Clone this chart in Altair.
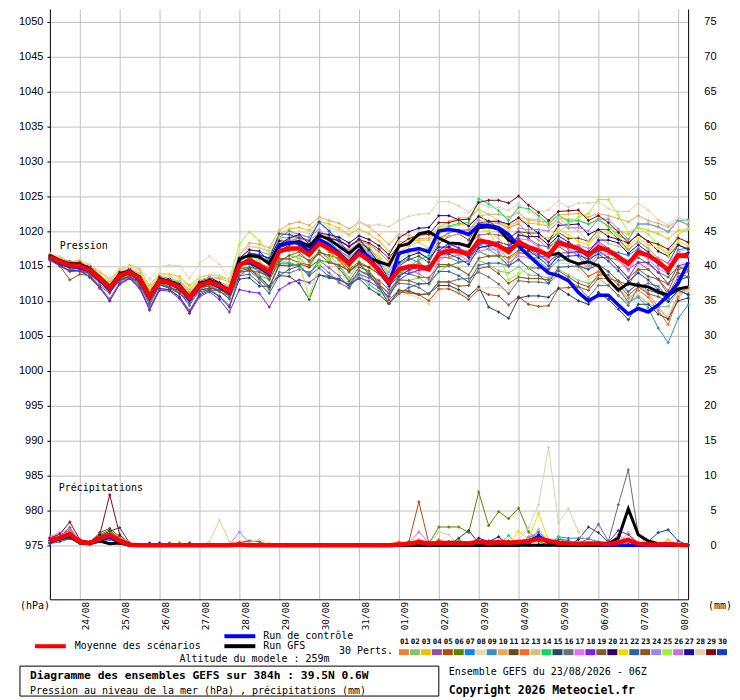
import altair as alt
import pandas as pd

# ---------------- time axis (6-hourly, 0..384 h from 23/08 06Z) ----------------
HOURS = [6 * i for i in range(65)]
DAY_HOURS = [18, 42, 66, 90, 114, 138, 162, 186, 210, 234, 258, 282, 306, 330, 354, 378]
DAY_LABELS = ["24/08", "25/08", "26/08", "27/08", "28/08", "29/08", "30/08", "31/08",
              "01/09", "02/09", "03/09", "04/09", "05/09", "06/09", "07/09", "08/09"]
PRESSURE_TICKS = [975, 980, 985, 990, 995, 1000, 1005, 1010, 1015, 1020, 1025, 1030, 1035, 1040, 1045, 1050]

MEMBER_IDS = ["01", "02", "03", "04", "05", "06", "07", "08", "09", "10",
              "11", "12", "13", "14", "15", "16", "17", "18", "19", "20",
              "21", "22", "23", "24", "25", "26", "27", "28", "29", "30"]
MEMBER_COLORS = ["#E8823A", "#84C46C", "#F0C000", "#8C50A8", "#B04C0C", "#5C8400", "#0C84FC", "#E8D8B0",
                 "#3C8CBC", "#E8A858", "#604C1C", "#F86C20", "#D4C07C", "#10D864", "#28485C", "#687078",
                 "#E070F8", "#7C20F0", "#7C5C30", "#300070", "#F0D800", "#2C64A0", "#905420", "#9C88EC",
                 "#A0F038", "#D070D4", "#200CA0", "#E0D0B0", "#800C10", "#1040C0"]

# ---------------- sea level pressure (hPa) ----------------
p_mean = [1016.3,1015.6,1015.1,1015.0,1014.4,1013.2,1011.8,1013.6,1014.1,1013.2,1010.6,1012.9,1012.6,1012.0,1010.4,1012.2,1012.7,1012.2,1011.3,
          1015.1,1015.8,1015.1,1014.1,1017.1,1017.5,1017.5,1016.6,1018.2,1017.5,1016.6,1015.3,1016.8,1015.8,1014.4,1012.6,
          1014.5,1014.9,1014.9,1014.5,1016.7,1017.2,1017.1,1016.7,1018.6,1018.4,1017.9,1017.0,1018.4,1017.7,1017.2,1016.5,1018.3,1017.9,1017.5,1016.5,1017.7,1017.2,1016.3,1015.3,1017.0,1016.5,1015.6,1014.4,1016.5,1016.4]
p_ctl = [1016.2,1015.4,1015.0,1014.8,1014.3,1013.0,1011.6,1013.5,1014.0,1013.0,1010.4,1012.8,1012.5,1011.8,1010.2,1012.1,1012.6,1012.0,1011.1,
         1015.3,1015.5,1014.8,1013.8,1017.8,1018.3,1018.3,1017.0,1018.8,1018.0,1016.8,1015.5,1017.2,1016.3,1014.2,1012.4,
         1016.8,1017.2,1017.5,1017.0,1020.0,1020.2,1020.0,1019.5,1020.8,1020.8,1020.5,1019.5,1017.8,1016.5,1015.2,1014.0,1013.6,1012.9,1011.2,1010.0,1010.8,1010.8,1009.4,1008.1,1008.9,1008.4,1009.4,1010.8,1012.5,1015.5]
p_gfs = [1016.5,1015.8,1015.3,1015.2,1014.6,1013.4,1012.0,1013.8,1014.3,1013.4,1010.8,1013.1,1012.8,1012.2,1010.6,1012.4,1012.9,1012.4,1011.5,
         1016.0,1016.5,1016.3,1015.3,1018.0,1018.3,1018.5,1017.8,1019.4,1018.8,1017.8,1016.8,1018.0,1016.1,1015.6,1015.1,
         1017.8,1018.2,1019.6,1019.9,1019.0,1018.3,1018.2,1017.8,1020.5,1020.6,1020.3,1018.7,1018.0,1017.6,1017.2,1016.5,1016.8,1015.8,1015.3,1015.6,1015.0,1013.0,1011.5,1012.5,1012.2,1012.0,1011.3,1010.8,1011.7,1012.0]

p01 = [1016.5,1015.9,1015.6,1015.4,1015.0,1013.5,1012.3,1013.8,1014.5,1013.8,1011.4,1013.2,1013.1,1012.7,1011.3,1012.6,1013.3,1012.7,1012.1,
       1015.6,1016.8,1016.3,1015.6,1018.1,1018.9,1019.3,1018.6,1019.7,1019.4,1018.8,1017.8,1018.6,1018.1,1017.0,1015.6,
       1017.0,1016.9,1017.3,1017.3,1018.9,1019.8,1020.1,1020.1,1021.1,1021.2,1021.1,1020.5,1021.0,1019.7,1018.7,1017.5,1018.7,1017.4,1016.3,1014.5,1015.2,1014.2,1012.9,1011.3,1012.5,1011.0,1009.1,1007.4,1011.0,1011.9]
p02 = [1016.1,1015.6,1014.8,1014.9,1014.0,1013.0,1011.3,1013.3,1014.0,1012.8,1010.0,1012.6,1012.4,1011.5,1010.0,1011.9,1012.1,1011.8,1010.6,
       1014.6,1014.8,1014.3,1012.9,1015.6,1016.5,1016.1,1014.8,1017.0,1016.5,1015.1,1013.3,1015.4,1014.0,1012.2,1011.1,
       1013.0,1012.9,1013.3,1012.3,1014.1,1015.2,1014.6,1013.7,1015.8,1015.2,1014.3,1014.0,1014.9,1013.7,1013.6,1013.3,1014.5,1013.7,1012.9,1012.5,1013.2,1012.2,1010.7,1009.8,1010.8,1009.5,1009.1,1009.2,1011.5,1011.6]
p03 = [1016.7,1016.2,1015.6,1015.8,1015.0,1014.1,1013.0,1014.4,1015.1,1014.5,1012.2,1013.9,1013.8,1013.5,1012.2,1013.4,1013.7,1013.6,1013.0,
       1016.6,1017.8,1017.6,1017.1,1019.6,1020.3,1020.5,1020.1,1021.4,1021.0,1020.4,1019.5,1020.3,1019.6,1018.6,1017.1,
       1018.5,1018.4,1018.7,1018.7,1020.3,1020.5,1020.9,1020.9,1022.1,1021.4,1021.3,1020.8,1021.4,1021.1,1021.0,1020.7,1021.8,1021.7,1021.5,1021.0,1021.5,1020.7,1020.1,1019.5,1020.5,1020.1,1019.6,1018.9,1020.1,1020.2]
p04 = [1015.8,1015.0,1014.3,1014.3,1013.4,1012.0,1010.3,1012.6,1013.3,1012.0,1009.0,1011.8,1011.6,1010.6,1008.6,1011.0,1011.7,1010.7,1009.3,
       1013.6,1014.6,1013.5,1012.1,1015.3,1015.3,1015.0,1013.8,1015.8,1014.7,1013.6,1011.9,1014.3,1013.6,1012.4,1011.1,
       1013.5,1014.4,1014.9,1015.0,1016.9,1017.8,1018.1,1018.1,1019.4,1019.6,1019.4,1019.0,1019.9,1018.9,1018.0,1017.7,1018.8,1018.1,1017.3,1017.0,1018.5,1017.5,1016.1,1014.5,1015.5,1014.5,1013.1,1010.9,1013.5,1014.2]
p05 = [1016.0,1015.4,1014.6,1014.2,1014.0,1013.0,1011.5,1013.0,1013.2,1012.7,1010.4,1012.5,1011.9,1011.5,1010.1,1011.6,1011.8,1011.6,1010.9,
       1014.8,1015.8,1015.4,1014.7,1017.1,1017.2,1017.7,1017.1,1018.2,1017.1,1015.8,1014.1,1015.3,1013.8,1011.9,1009.6,
       1011.3,1011.1,1010.9,1010.0,1011.7,1011.7,1011.1,1010.2,1011.6,1010.9,1010.7,1009.4,1010.6,1009.5,1009.2,1009.3,1011.8,1011.9,1012.0,1011.5,1013.2,1013.2,1012.8,1012.3,1014.5,1014.5,1013.1,1011.4,1014.5,1014.9]
p06 = [1016.3,1015.8,1015.0,1015.3,1014.4,1012.9,1011.8,1013.8,1014.0,1013.0,1010.6,1013.2,1012.6,1011.8,1010.6,1012.2,1012.4,1012.2,1011.6,
       1015.1,1015.3,1014.1,1013.5,1015.9,1016.0,1016.5,1015.8,1016.9,1016.5,1016.1,1014.5,1015.6,1014.8,1013.8,1012.6,
       1014.0,1013.9,1013.4,1013.3,1014.9,1015.0,1015.5,1015.7,1017.1,1016.4,1016.5,1016.2,1017.2,1017.1,1017.2,1016.9,1017.8,1016.9,1017.1,1016.5,1017.1,1016.2,1015.8,1015.3,1016.2,1015.3,1014.1,1013.4,1014.9,1014.4]
p07 = [1016.6,1015.7,1015.5,1015.2,1014.9,1013.5,1012.4,1014.0,1014.3,1013.7,1011.4,1013.3,1012.9,1012.6,1010.8,1012.4,1013.2,1012.5,1011.4,
       1015.6,1016.6,1016.1,1015.5,1018.1,1018.7,1018.3,1017.8,1019.7,1018.5,1017.2,1016.3,1018.2,1017.6,1015.9,1013.6,
       1015.3,1016.1,1015.5,1014.5,1017.2,1018.2,1017.5,1016.5,1018.0,1018.4,1018.4,1018.0,1018.8,1017.5,1016.4,1016.3,1018.7,1017.9,1017.0,1015.5,1017.2,1017.2,1016.9,1016.5,1017.5,1016.5,1015.1,1014.4,1017.3,1017.6]
p08 = [1016.8,1016.4,1015.7,1015.4,1015.2,1014.2,1013.3,1014.8,1014.9,1014.7,1013.1,1014.9,1015.1,1015.0,1013.2,1015.4,1016.4,1015.2,1013.1,
       1016.1,1016.3,1015.1,1013.6,1016.1,1016.0,1016.3,1014.8,1016.0,1015.5,1014.1,1012.3,1014.2,1012.8,1010.9,1009.6,
       1011.0,1010.9,1010.4,1009.5,1011.2,1012.2,1011.3,1010.5,1011.8,1011.9,1011.9,1011.5,1013.4,1013.2,1013.2,1013.0,1015.3,1015.4,1014.5,1013.0,1013.7,1012.7,1011.3,1009.8,1011.0,1009.7,1008.1,1007.9,1011.0,1011.4]
p09 = [1016.3,1015.4,1015.3,1015.0,1014.1,1012.7,1011.6,1013.6,1014.3,1013.0,1010.1,1012.8,1012.7,1011.7,1009.8,1012.0,1012.7,1011.9,1010.8,
       1015.1,1016.3,1016.1,1015.6,1019.1,1020.0,1019.5,1019.1,1021.2,1020.0,1018.6,1017.8,1018.6,1017.0,1015.0,1012.6,
       1014.0,1013.9,1014.4,1014.5,1016.2,1016.2,1015.6,1015.7,1018.1,1017.4,1016.4,1015.0,1016.9,1016.7,1015.7,1014.5,1015.8,1015.9,1015.0,1013.5,1014.2,1013.2,1011.8,1009.8,1010.5,1009.0,1006.1,1004.0,1007.5,1009.4]
p10 = [1016.6,1016.1,1015.3,1015.6,1015.2,1013.7,1012.7,1014.2,1014.5,1014.0,1011.7,1013.6,1013.1,1012.9,1011.6,1013.0,1013.3,1013.2,1012.7,
       1016.6,1018.3,1018.1,1017.6,1020.1,1021.0,1021.3,1020.8,1022.0,1021.5,1021.1,1020.3,1021.3,1020.6,1019.4,1018.1,
       1019.5,1019.4,1018.9,1019.0,1020.5,1021.4,1021.9,1021.9,1023.1,1022.4,1022.4,1022.0,1022.6,1021.5,1021.4,1021.3,1022.3,1022.4,1022.5,1022.0,1022.5,1022.2,1021.8,1021.3,1022.2,1021.5,1021.1,1020.6,1021.5,1020.9]
p11 = [1016.1,1015.2,1015.0,1014.7,1013.8,1012.8,1011.6,1013.1,1013.4,1012.8,1010.4,1012.3,1011.8,1011.5,1010.1,1011.5,1011.8,1011.6,1011.0,
       1014.3,1014.6,1013.3,1011.9,1015.1,1015.0,1015.3,1014.8,1015.8,1015.5,1015.1,1014.3,1015.3,1014.8,1013.9,1012.6,
       1015.0,1015.9,1016.4,1015.5,1018.2,1019.2,1019.6,1018.7,1021.1,1021.4,1020.4,1019.0,1019.9,1019.7,1019.7,1018.5,1019.8,1018.9,1019.0,1018.5,1020.2,1020.2,1018.8,1017.3,1018.5,1017.5,1016.1,1015.4,1018.0,1017.4]
p12 = [1016.5,1015.6,1015.4,1015.1,1014.2,1013.2,1012.1,1013.7,1014.0,1013.4,1011.1,1013.1,1012.6,1012.3,1011.0,1012.5,1012.7,1012.4,1011.8,
       1015.1,1015.3,1015.1,1014.6,1017.1,1017.1,1017.5,1017.0,1018.2,1017.0,1015.8,1014.9,1016.8,1016.2,1014.4,1012.1,
       1014.0,1014.9,1015.4,1014.5,1016.2,1016.2,1016.6,1016.7,1019.1,1018.4,1017.4,1016.0,1016.9,1016.7,1016.7,1015.5,1016.8,1015.9,1015.0,1013.5,1014.2,1013.2,1011.8,1010.3,1011.5,1010.5,1008.6,1006.6,1010.5,1011.9]
p13 = [1016.4,1015.9,1015.1,1015.2,1014.8,1013.3,1011.6,1013.8,1014.5,1013.3,1010.4,1013.1,1013.0,1012.1,1010.1,1012.3,1013.0,1012.2,1011.1,
       1015.6,1016.8,1015.6,1014.1,1017.6,1018.5,1019.0,1017.6,1018.7,1018.5,1018.1,1017.3,1018.3,1016.8,1015.9,1014.6,
       1017.0,1017.9,1018.4,1017.5,1019.2,1019.2,1019.6,1019.7,1022.1,1022.4,1021.4,1020.0,1021.9,1021.7,1021.7,1020.5,1021.8,1020.9,1020.0,1018.5,1019.2,1018.2,1017.8,1017.3,1018.5,1017.5,1016.1,1014.4,1017.0,1017.4]
p14 = [1016.2,1015.7,1014.9,1015.0,1014.6,1013.1,1011.5,1013.6,1014.3,1013.2,1010.3,1012.9,1012.8,1011.9,1010.0,1012.2,1012.9,1012.1,1010.9,
       1014.6,1014.8,1013.6,1013.1,1015.6,1015.5,1015.0,1013.6,1015.7,1015.5,1015.1,1012.8,1013.8,1012.3,1011.4,1010.6,
       1013.5,1014.9,1015.9,1016.5,1019.7,1020.7,1021.1,1021.2,1024.6,1023.9,1022.9,1021.5,1023.4,1023.2,1022.2,1021.0,1022.3,1021.4,1021.5,1021.0,1021.7,1020.7,1019.3,1018.8,1021.0,1021.0,1020.6,1019.9,1021.5,1021.6]
p15 = [1016.0,1015.1,1014.3,1014.4,1013.4,1011.9,1010.0,1012.4,1013.2,1011.8,1008.7,1011.7,1011.6,1010.5,1008.4,1010.8,1011.5,1010.6,1009.1,
       1013.1,1013.3,1012.1,1012.1,1013.6,1013.5,1012.5,1010.2,1013.7,1013.3,1013.0,1012.3,1013.2,1011.8,1010.9,1009.6,
       1011.5,1011.4,1010.9,1011.0,1012.2,1012.2,1011.6,1010.7,1012.0,1009.1,1008.4,1007.5,1010.4,1010.7,1010.7,1010.5,1011.8,1010.9,1010.0,1009.5,1011.2,1010.2,1008.8,1007.3,1009.5,1009.5,1008.1,1007.4,1010.0,1010.4]
p16 = [1016.1,1015.3,1014.6,1014.7,1013.8,1012.4,1011.3,1013.3,1013.5,1012.3,1009.4,1012.2,1012.1,1011.2,1009.3,1011.6,1012.3,1011.4,1010.3,
       1014.1,1014.3,1013.1,1011.6,1014.1,1014.0,1014.5,1014.1,1015.2,1014.0,1012.6,1011.8,1013.8,1013.3,1012.4,1011.1,
       1012.5,1012.4,1011.9,1011.0,1012.7,1012.7,1013.1,1013.2,1014.1,1013.4,1012.4,1011.0,1012.9,1012.7,1012.7,1012.5,1013.8,1012.9,1012.0,1010.5,1012.2,1012.2,1010.8,1009.3,1012.0,1012.5,1012.1,1010.4,1013.0,1013.4]
p17 = [1016.3,1015.8,1015.5,1015.1,1014.3,1013.4,1012.2,1013.6,1013.9,1013.3,1011.0,1012.9,1012.3,1012.0,1010.7,1012.1,1012.3,1012.2,1011.6,
       1015.6,1016.8,1016.6,1015.1,1017.6,1018.5,1019.0,1018.6,1019.7,1018.5,1018.1,1017.3,1018.3,1016.8,1014.9,1013.6,
       1015.0,1014.9,1014.4,1014.5,1017.2,1017.2,1016.6,1015.7,1017.1,1017.4,1017.4,1017.0,1018.9,1018.7,1017.7,1016.5,1017.8,1017.9,1018.0,1017.5,1018.2,1017.2,1015.8,1014.3,1016.5,1016.5,1016.1,1015.4,1017.0,1016.4]
p18 = [1015.9,1015.0,1014.2,1014.3,1013.4,1011.8,1010.0,1012.4,1013.2,1011.9,1008.7,1011.5,1011.4,1010.3,1008.2,1010.6,1011.3,1010.2,1008.4,
       1011.6,1011.3,1011.1,1009.1,1011.6,1012.5,1013.0,1012.6,1013.7,1013.5,1013.1,1012.3,1013.3,1012.8,1011.9,1010.6,
       1013.0,1013.9,1014.4,1014.5,1017.2,1018.2,1017.6,1016.7,1018.1,1018.4,1018.4,1018.0,1018.9,1017.7,1016.7,1015.5,1016.8,1016.9,1017.0,1016.5,1017.2,1016.2,1014.8,1013.3,1015.5,1015.5,1014.1,1012.4,1015.0,1015.4]
p19 = [1016.4,1015.5,1015.3,1015.0,1014.2,1013.3,1011.7,1013.8,1014.1,1013.0,1010.7,1012.8,1012.8,1012.0,1010.2,1012.3,1012.6,1012.4,1011.3,
       1014.6,1014.8,1014.6,1013.1,1015.6,1016.5,1017.0,1015.6,1016.7,1015.5,1015.1,1014.3,1015.3,1013.8,1012.9,1011.6,
       1013.0,1012.9,1012.4,1012.5,1015.2,1015.2,1014.6,1013.7,1016.1,1016.4,1016.4,1015.0,1015.9,1014.7,1014.7,1014.5,1016.8,1015.9,1015.0,1014.5,1016.2,1016.2,1014.8,1013.3,1014.5,1013.5,1013.1,1012.4,1014.0,1013.4]
p20 = [1016.5,1016.0,1015.2,1015.3,1014.9,1013.4,1011.8,1013.9,1014.6,1013.4,1010.6,1013.3,1013.2,1012.3,1010.5,1012.7,1013.4,1012.6,1011.5,
       1015.6,1016.8,1016.6,1016.1,1018.6,1018.5,1018.0,1017.6,1019.7,1019.5,1019.1,1018.3,1019.3,1018.8,1017.9,1016.6,
       1019.0,1019.9,1020.4,1020.5,1022.2,1022.2,1021.6,1020.7,1022.1,1021.4,1021.4,1021.0,1021.9,1020.7,1019.7,1018.5,1020.8,1020.9,1021.0,1019.5,1020.2,1019.2,1018.8,1018.3,1019.5,1018.5,1017.1,1016.4,1018.0,1017.4]
p21 = [1016.3,1015.8,1015.1,1014.8,1014.4,1013.4,1011.8,1013.4,1014.1,1013.4,1010.6,1012.7,1012.6,1012.2,1010.4,1012.0,1012.7,1012.4,1011.3,
       1015.6,1016.8,1015.6,1014.1,1018.1,1019.0,1018.5,1017.1,1019.2,1019.0,1017.6,1015.8,1017.8,1017.3,1016.4,1015.1,
       1016.5,1017.4,1016.9,1016.0,1018.7,1019.7,1020.1,1019.2,1020.6,1019.9,1018.9,1017.5,1019.4,1019.2,1019.2,1019.0,1020.3,1019.4,1018.5,1018.0,1019.7,1019.7,1019.3,1017.8,1019.0,1018.0,1017.6,1016.9,1018.5,1017.9]
p22 = [1016.1,1015.2,1014.8,1014.5,1013.7,1012.8,1011.2,1012.8,1013.6,1012.5,1009.7,1012.3,1011.8,1011.0,1009.7,1011.3,1011.6,1011.4,1010.3,
       1013.6,1013.8,1012.6,1011.1,1013.6,1014.5,1015.0,1013.6,1014.7,1013.5,1013.1,1012.3,1014.3,1013.8,1011.9,1009.6,
       1011.0,1011.9,1012.4,1012.5,1014.2,1014.2,1013.6,1012.7,1015.1,1015.4,1015.4,1015.0,1015.9,1014.7,1013.7,1012.5,1014.8,1014.9,1015.0,1014.5,1015.2,1014.2,1012.8,1011.3,1012.5,1011.5,1011.1,1010.4,1013.0,1013.4]
p23 = [1016.0,1015.0,1013.0,1013.8,1013.6,1012.1,1011.1,1013.2,1013.4,1012.2,1010.0,1012.6,1012.0,1011.1,1009.9,1011.9,1012.1,1011.3,1010.7,
       1014.1,1014.3,1014.1,1013.6,1016.1,1016.0,1015.5,1015.1,1017.2,1016.0,1014.6,1012.8,1014.8,1014.3,1012.4,1010.1,
       1011.5,1011.4,1010.9,1011.0,1012.7,1012.7,1012.1,1012.2,1014.6,1014.9,1013.9,1012.5,1013.4,1013.2,1013.2,1013.0,1014.3,1013.4,1012.5,1012.0,1013.7,1013.7,1012.3,1010.8,1012.0,1011.0,1010.6,1009.9,1011.5,1010.9]
p24 = [1016.6,1015.7,1015.5,1015.6,1014.7,1013.3,1012.2,1014.2,1014.4,1013.3,1011.0,1013.5,1012.9,1012.1,1010.8,1012.8,1013.0,1012.3,1011.7,
       1016.1,1017.3,1017.1,1016.6,1019.1,1019.0,1019.5,1019.1,1020.2,1019.0,1018.6,1017.8,1018.8,1017.3,1015.4,1014.1,
       1016.5,1017.4,1016.9,1016.0,1018.7,1019.7,1020.1,1020.2,1021.6,1020.9,1019.9,1018.5,1020.4,1020.2,1020.2,1020.0,1021.3,1020.4,1020.5,1020.0,1021.7,1021.7,1020.3,1018.8,1021.0,1021.0,1020.6,1019.9,1021.5,1020.9]
p25 = [1016.5,1016.0,1015.3,1015.0,1014.7,1013.7,1012.6,1014.1,1014.4,1013.8,1011.5,1013.5,1013.0,1012.8,1011.6,1013.0,1013.3,1013.4,1013.1,
       1018.1,1019.9,1018.6,1016.6,1019.1,1018.0,1015.5,1010.5,1015.2,1016.0,1016.6,1016.3,1018.3,1017.8,1015.9,1013.6,
       1016.0,1016.9,1017.4,1017.5,1020.2,1021.2,1021.6,1021.7,1023.1,1020.4,1016.9,1013.0,1013.9,1014.7,1015.7,1016.5,1019.8,1020.9,1022.0,1022.5,1024.5,1024.5,1022.3,1019.8,1020.5,1019.5,1018.1,1016.4,1019.5,1020.4]
p26 = [1016.3,1015.4,1015.1,1015.2,1014.4,1013.0,1011.8,1013.8,1014.1,1013.0,1010.2,1012.7,1012.6,1011.8,1010.0,1012.0,1012.7,1012.0,1010.9,
       1015.6,1016.8,1016.6,1015.1,1017.6,1018.5,1019.0,1017.6,1018.7,1017.5,1017.1,1016.3,1017.3,1015.8,1013.9,1012.6,
       1014.5,1014.4,1013.9,1013.0,1015.7,1016.7,1017.1,1017.2,1018.6,1017.9,1016.9,1015.5,1016.4,1016.2,1016.2,1016.0,1018.3,1017.4,1016.5,1015.0,1016.7,1016.7,1016.3,1015.8,1017.0,1016.0,1014.6,1013.9,1016.5,1016.9]
p27 = [1016.4,1015.9,1015.6,1015.3,1014.5,1013.1,1011.5,1013.7,1014.4,1013.3,1010.4,1013.0,1012.9,1012.0,1010.2,1012.4,1013.1,1012.3,1011.2,
       1016.1,1017.3,1017.1,1015.6,1018.1,1019.0,1019.5,1018.1,1019.2,1019.0,1018.6,1017.8,1018.8,1017.3,1015.4,1013.1,
       1015.5,1016.4,1016.9,1016.0,1017.7,1017.7,1017.1,1016.2,1017.6,1017.9,1017.9,1017.5,1019.4,1019.2,1019.2,1018.0,1019.3,1018.4,1017.5,1017.0,1018.7,1018.7,1018.3,1016.8,1018.0,1017.0,1015.6,1013.9,1016.5,1016.9]
p28 = [1016.6,1016.1,1015.5,1015.6,1015.2,1014.2,1013.1,1014.5,1014.8,1014.2,1012.0,1013.9,1013.4,1013.2,1012.0,1013.4,1013.7,1013.6,1013.1,
       1016.6,1017.8,1017.6,1017.1,1019.6,1019.5,1020.0,1019.6,1021.7,1020.5,1020.1,1019.3,1021.3,1020.8,1020.9,1020.6,
       1021.5,1022.1,1022.4,1022.5,1024.2,1024.2,1023.6,1022.7,1024.1,1023.4,1023.4,1023.0,1023.9,1022.7,1022.7,1023.0,1024.3,1023.4,1024.0,1024.0,1024.2,1023.2,1022.8,1022.8,1024.0,1023.0,1021.6,1020.9,1022.0,1021.4]
p29 = [1016.5,1015.6,1015.4,1015.5,1014.6,1013.2,1012.1,1014.1,1014.3,1013.2,1010.9,1013.4,1012.8,1012.0,1010.7,1012.7,1012.9,1012.2,1011.6,
       1016.1,1016.3,1015.1,1013.6,1017.1,1018.0,1018.5,1018.1,1019.2,1019.0,1018.6,1017.8,1018.8,1018.3,1017.4,1016.1,
       1018.0,1018.9,1019.4,1019.5,1021.2,1021.2,1021.6,1021.7,1024.1,1024.4,1024.4,1024.0,1025.0,1023.7,1022.7,1021.5,1022.8,1022.9,1023.0,1021.5,1022.2,1021.2,1019.8,1018.3,1019.5,1018.5,1018.1,1017.4,1019.0,1018.4]
p30 = [1016.2,1015.7,1014.9,1015.0,1014.6,1013.1,1011.5,1013.6,1014.3,1013.1,1010.3,1012.9,1012.8,1011.9,1010.1,1012.2,1012.9,1012.1,1011.0,
       1015.6,1016.8,1016.6,1016.1,1019.6,1019.5,1019.0,1018.6,1021.3,1020.0,1018.6,1016.8,1017.8,1016.3,1014.4,1012.1,
       1013.5,1014.4,1014.9,1015.0,1016.7,1016.7,1016.1,1015.2,1017.6,1017.9,1017.9,1017.5,1018.4,1017.2,1016.2,1015.0,1016.3,1016.4,1016.5,1016.0,1016.7,1015.7,1014.3,1012.8,1014.0,1013.0,1011.6,1009.9,1011.5,1010.9]

# ---------------- precipitation (mm per 6 h), {time step index: mm}, other steps 0 ----------------
pr01 = {0:0.8,1:1.2,2:1.6,3:0.5,4:0.3,5:1.0,6:1.4,7:0.8,8:0.2,36:0.3,37:0.8,38:0.2,57:0.3}
pr02 = {0:0.5,1:1.0,2:1.3,3:0.4,4:0.2,5:0.8,6:1.2,7:0.5,36:0.2,37:0.6,38:0.5}
pr03 = {0:1.0,1:1.5,2:2.0,3:0.6,4:0.5,5:1.2,6:1.6,7:0.6,50:0.4}
pr04 = {0:0.6,1:1.0,2:1.8,3:0.5,4:0.2,5:0.6,6:1.0,7:0.4,53:0.3,54:0.9,55:3.0,56:0.6}
pr05 = {0:0.7,1:1.3,2:2.2,3:0.6,4:0.4,5:1.2,6:2.0,7:1.0,19:0.3,35:0.2,36:0.5,37:6.2,38:0.3}
pr06 = {0:0.5,1:1.1,2:1.9,3:0.4,4:0.3,5:1.5,6:2.2,7:0.8,13:0.3,38:0.2,39:2.6,40:2.6,41:2.6,42:1.8,43:7.6,44:2.8,45:4.8,46:3.8,47:5.3,48:1.9,49:0.5}
pr07 = {0:0.3,1:0.8,2:1.2,3:0.3,4:0.2,5:0.6,6:1.0,7:0.3,47:0.4,48:1.0,49:1.9,50:0.5}
pr08 = {0:0.4,1:0.7,2:1.0,3:0.3,4:0.2,5:0.5,6:0.8,7:0.3,38:0.4}
pr09 = {0:0.6,1:0.9,2:1.5,3:0.5,4:0.3,5:0.9,6:1.3,7:0.5,51:1.2,52:1.0,53:1.0,54:0.9,55:0.5}
pr10 = {0:0.9,1:1.4,2:2.0,3:0.6,4:0.4,5:1.1,6:1.5,7:0.6,36:0.4,37:0.8}
pr11 = {0:0.7,1:1.2,2:2.5,3:0.5,4:0.3,5:1.8,6:2.4,7:1.2,12:0.3,44:0.6,45:0.6,46:0.6}
pr12 = {0:0.8,1:1.3,2:1.7,3:0.6,4:0.3,5:1.0,6:1.5,7:0.7,35:0.5,39:0.8}
pr13 = {0:0.5,1:1.0,2:1.4,3:0.4,4:0.2,5:0.9,6:1.8,7:0.9,49:2.3,50:0.6,58:1.9,62:0.8}
pr14 = {0:0.4,1:0.9,2:1.3,3:0.3,4:0.2,5:0.7,6:1.1,7:0.4,40:0.5,41:0.8,46:1.4,51:1.2}
pr15 = {0:0.7,1:1.1,2:1.6,3:0.5,4:0.4,5:1.3,6:2.0,7:2.5,8:0.3,41:1.0,42:2.1,43:0.3,53:0.8,54:2.6,55:1.8,56:0.4}
pr16 = {0:0.5,1:0.9,2:1.2,3:0.4,4:0.2,5:0.8,6:1.2,7:0.5,56:0.5,57:5.8,58:10.8,59:1.5}
pr17 = {0:1.2,1:1.8,2:2.3,3:0.7,4:0.4,5:1.0,6:1.3,7:0.5,19:1.9,20:0.3,36:0.3,37:1.9,38:0.3}
pr18 = {0:0.4,1:0.8,2:1.1,3:0.3,4:0.2,5:0.6,6:0.9,7:0.3,56:0.4,57:2.1,58:1.5,59:0.3}
pr19 = {0:0.6,1:1.0,2:1.4,3:0.4,4:0.3,5:0.9,6:1.4,7:0.5,36:0.5,37:0.5,38:0.5}
pr20 = {0:0.5,1:0.8,2:1.2,3:0.4,4:0.2,5:0.7,6:1.0,7:0.4,11:0.3,39:0.5,40:0.5}
pr21 = {0:0.6,1:1.1,2:1.5,3:0.5,4:0.3,5:0.8,6:1.2,7:0.5,47:2.0,48:0.9,49:4.6,50:0.7}
pr22 = {0:0.2,1:0.5,2:0.9,3:0.3,4:0.1,5:0.5,6:0.8,7:0.3,51:0.8,52:0.7}
pr23 = {0:0.5,1:1.0,2:1.5,3:0.5,4:0.3,5:0.9,6:1.3,7:0.6,19:0.4,20:0.6,21:0.5}
pr24 = {0:0.7,1:1.2,2:1.9,3:0.5,4:0.3,5:1.1,6:1.6,7:0.6,48:1.2,49:1.5,50:0.8}
pr25 = {0:0.9,1:1.3,2:1.7,3:0.5,4:0.3,5:1.0,6:1.4,7:0.5}
pr26 = {0:1.0,1:1.5,2:2.0,3:0.6,4:0.4,5:1.1,6:1.5,7:0.6,19:0.3,57:1.5,58:0.5}
pr27 = {0:0.6,1:1.0,2:1.3,3:0.4,4:0.2,5:0.7,6:1.0,7:0.4,10:0.3,43:1.0,44:0.5,45:1.2,49:1.5,50:0.4}
pr28 = {0:0.5,1:0.9,2:1.2,3:0.4,4:0.2,5:0.6,6:0.9,7:0.4,16:0.5,17:3.6,18:0.5,20:0.3,21:0.8,22:0.3,39:1.9,40:1.5,
        47:0.8,48:2.5,49:5.8,50:14.0,51:3.2,52:5.2,53:1.9,54:0.3,58:0.6}
pr29 = {0:1.0,1:1.6,2:3.3,3:0.8,4:0.5,5:1.5,6:7.2,7:1.5,8:0.2,14:0.3}
pr30 = {0:0.3,1:0.7,2:1.0,3:0.3,4:0.2,5:0.6,6:0.9,7:0.3,60:0.5,61:1.8,62:2.2,63:0.6}
pr_ctl = {0:0.6,1:1.0,2:1.5,3:0.4,4:0.3,5:0.8,6:1.2,7:0.5,48:0.6,49:1.2,50:0.4}
pr_gfs = {0:0.5,1:0.9,2:1.3,3:0.3,4:0.2,5:0.6,6:0.2,7:0.3,56:0.2,57:1.0,58:5.2,59:1.5,60:0.6,61:0.2}
pr_mean = {0:0.65,1:1.05,2:1.6,3:0.45,4:0.3,5:0.9,6:1.5,7:0.6,8:0.05,19:0.1,35:0.1,36:0.15,37:0.45,38:0.2,39:0.3,
           40:0.3,41:0.3,42:0.25,43:0.5,44:0.3,45:0.4,46:0.35,47:0.45,48:0.55,49:0.9,50:0.6,51:0.35,52:0.25,
           53:0.2,54:0.25,55:0.25,56:0.15,57:0.4,58:0.75,59:0.2,60:0.1,61:0.1,62:0.15,63:0.05}

P_LISTS = [p01, p02, p03, p04, p05, p06, p07, p08, p09, p10, p11, p12, p13, p14, p15,
           p16, p17, p18, p19, p20, p21, p22, p23, p24, p25, p26, p27, p28, p29, p30]
PR_DICTS = [pr01, pr02, pr03, pr04, pr05, pr06, pr07, pr08, pr09, pr10, pr11, pr12, pr13, pr14, pr15,
            pr16, pr17, pr18, pr19, pr20, pr21, pr22, pr23, pr24, pr25, pr26, pr27, pr28, pr29, pr30]

rows = []
for mid, plist, prd in zip(MEMBER_IDS, P_LISTS, PR_DICTS):
    for i, (h, v) in enumerate(zip(HOURS, plist)):
        rows.append({"member": mid, "h": h, "p": v, "mm": prd.get(i, 0.0)})
members = pd.DataFrame(rows)


def series_df(plist, prd):
    return pd.DataFrame([{"h": h, "p": v, "mm": prd.get(i, 0.0)} for i, (h, v) in enumerate(zip(HOURS, plist))])


ctl_df = series_df(p_ctl, pr_ctl)
gfs_df = series_df(p_gfs, pr_gfs)
mean_df = series_df(p_mean, pr_mean)

MONO = "DejaVu Sans Mono"
SANS = "Liberation Sans"
GRID = "#C0C0C0"

xs = alt.Scale(domain=[0, 384], nice=False, zero=False)
ys = alt.Scale(domain=[967.24, 1051.81], nice=False, zero=False)
col = alt.Color("member:N", scale=alt.Scale(domain=MEMBER_IDS, range=MEMBER_COLORS), legend=None)

label_js = "[" + ",".join("'%s'" % d for d in DAY_LABELS) + "][round((datum.value - 18) / 24)]"
x_axis = alt.Axis(values=DAY_HOURS, labelExpr=label_js, labelAngle=-90, labelAlign="right",
                  labelBaseline="top", labelPadding=2, labelOffset=1, tickSize=0, grid=True,
                  gridColor=GRID, gridWidth=1, domainColor="black", domainWidth=1, orient="bottom",
                  labelFont=MONO, labelFontSize=9.5, labelColor="black", labelOverlap=False,
                  labelFlush=False, title=None)
y_left = alt.Axis(values=PRESSURE_TICKS, orient="left", format="d", tickSize=3, tickColor="black",
                  labelPadding=4, grid=True, gridColor=GRID, gridWidth=1, domainColor="black",
                  domainWidth=1, labelFont=SANS, labelFontSize=11, labelColor="black",
                  labelOverlap=False, labelFlush=False, title=None)
y_right = alt.Axis(values=PRESSURE_TICKS, orient="right", labelExpr="format(datum.value - 975, 'd')",
                   tickSize=0, labelPadding=28, labelAlign="right", grid=False, domainColor="black",
                   domainWidth=1, labelFont=SANS, labelFontSize=11, labelColor="black",
                   labelOverlap=False, labelFlush=False, title=None)

X = alt.X("h:Q", scale=xs, axis=None)
mem = alt.Chart(members)

layers = []
# members: pressure
layers.append(mem.mark_line(strokeWidth=1).encode(
    x=alt.X("h:Q", scale=xs, axis=x_axis), y=alt.Y("p:Q", scale=ys, axis=y_left), color=col))
layers.append(mem.mark_point(shape="cross", filled=True, size=9, opacity=1).encode(
    x=X, y=alt.Y("p:Q", scale=ys, axis=None), color=col))
# members: precipitation (plotted on the pressure scale: 0 mm at 975 hPa)
memr = mem.transform_calculate(yp="975 + datum.mm")
layers.append(memr.mark_line(strokeWidth=1).encode(
    x=X, y=alt.Y("yp:Q", scale=ys, axis=y_right), color=col))
layers.append(memr.mark_point(shape="cross", filled=True, size=9, opacity=1).encode(
    x=X, y=alt.Y("yp:Q", scale=ys, axis=None), color=col))

for df, c, w in [(ctl_df, "#0000FF", 3.5), (gfs_df, "#000000", 3), (mean_df, "#FF0000", 4.5)]:
    layers.append(alt.Chart(df).transform_calculate(yp="975 + datum.mm").mark_line(
        color=c, strokeWidth=w).encode(x=X, y=alt.Y("yp:Q", scale=ys, axis=None)))
for df, c, w in [(gfs_df, "#000000", 3), (ctl_df, "#0000FF", 3.5), (mean_df, "#FF0000", 4.5)]:
    layers.append(alt.Chart(df).mark_line(color=c, strokeWidth=w).encode(
        x=X, y=alt.Y("p:Q", scale=ys, axis=None)))

# ---------------- annotations (pixel positions relative to plot origin) ----------------
one = pd.DataFrame({"k": [0]})


def txt(s, x, y, size=10, weight="normal", align="left", font=MONO):
    return alt.Chart(one).mark_text(align=align, baseline="middle", font=font, fontSize=size,
                                    fontWeight=weight, color="black", fill="black").encode(
        x=alt.value(x), y=alt.value(y), text=alt.value(s))


def hline(x1, x2, y, c, w):
    return alt.Chart(one).mark_rule(color=c, strokeWidth=w).encode(
        x=alt.value(x1), x2=alt.value(x2), y=alt.value(y))


layers += [
    txt("Pression", 10, 238),
    txt("Précipitations", 9, 480),
    txt("(hPa)", -30, 599),
    txt("(mm)", 660, 599),
    hline(-15, 16, 639, "#FF0000", 4),
    txt("Moyenne des scénarios", 25, 639),
    hline(175, 206, 629, "#0000FF", 4),
    txt("Run de contrôle", 214, 629),
    hline(175, 206, 639, "#000000", 4),
    txt("Run GFS", 214, 639),
    txt("30 Perts.", 290, 644),
    txt("Altitude du modele : 259m", 130, 652),
]
for k, (mid, c) in enumerate(zip(MEMBER_IDS, MEMBER_COLORS)):
    layers.append(alt.Chart(one).mark_rect(color=c).encode(
        x=alt.value(350 + 11 * k), x2=alt.value(360 + 11 * k), y=alt.value(642), y2=alt.value(648)))
    layers.append(txt(mid, 355.5 + 11 * k, 635, size=7.5, weight="bold", align="center"))

layers += [
    alt.Chart(one).mark_rect(fillOpacity=0, stroke="black", strokeWidth=1).encode(
        x=alt.value(-30), x2=alt.value(390), y=alt.value(659), y2=alt.value(689)),
    txt("Diagramme des ensembles GEFS sur 384h : 39.5N 0.6W", -20, 669, size=11.3, weight="bold"),
    txt("Pression au niveau de la mer (hPa) , précipitations (mm)", -20, 683.5),
    txt("Ensemble GEFS du 23/08/2026 - 06Z", 400, 664.5),
    txt("Copyright 2026 Meteociel.fr", 400, 683.5, size=11.5, weight="bold"),
]

chart = alt.layer(*layers).properties(
    width=640, height=592,
    padding={"left": 42, "top": 0, "right": 44, "bottom": 98},
    autosize=alt.AutoSizeParams(type="none"),
).resolve_axis(x="independent", y="independent").configure_view(stroke=None)

chart.save("out.html", embed_options={"renderer": "svg", "actions": False})
